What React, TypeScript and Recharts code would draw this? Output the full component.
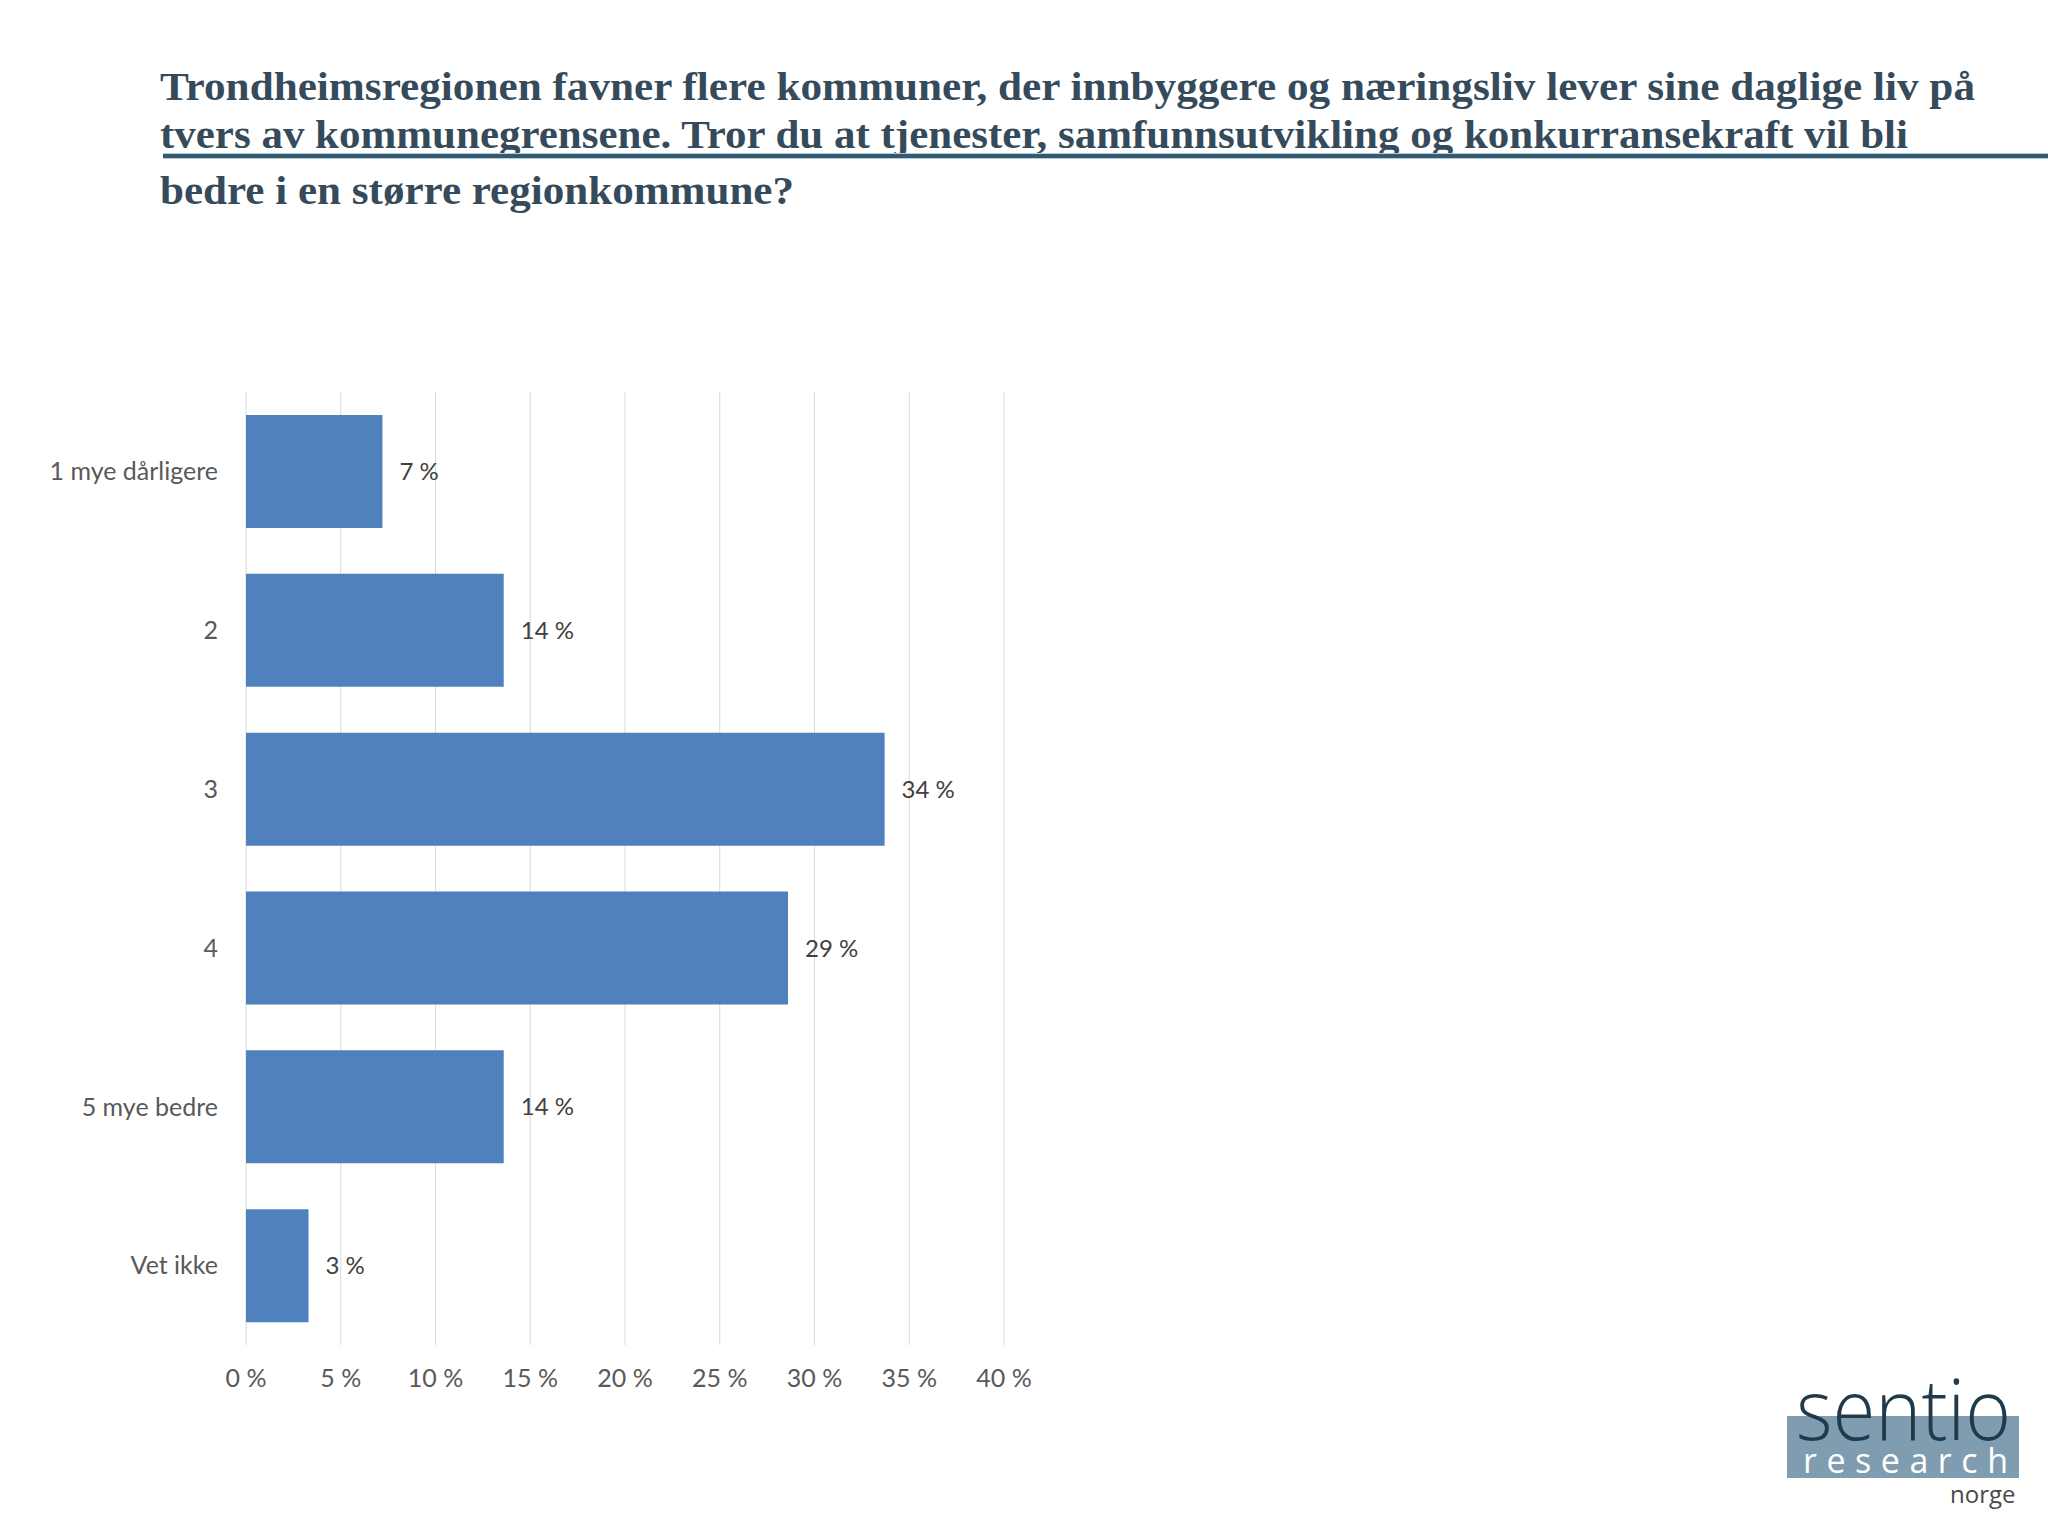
import React from 'react';
import {
  BarChart,
  Bar,
  XAxis,
  YAxis,
  CartesianGrid,
  LabelList,
} from 'recharts';

const categories = ['1 mye dårligere', '2', '3', '4', '5 mye bedre', 'Vet ikke'];
const shares = [7.2, 13.6, 33.7, 28.6, 13.6, 3.3];
const xTicks = [0, 5, 10, 15, 20, 25, 30, 35, 40];
const titleLines = [
  'Trondheimsregionen favner flere kommuner, der innbyggere og næringsliv lever sine daglige liv på',
  'tvers av kommunegrensene. Tror du at tjenester, samfunnsutvikling og konkurransekraft vil bli',
  'bedre i en større regionkommune?',
];

const data = categories.map((name, i) => ({ name, value: shares[i] }));

const tickFont = { fontSize: 25, fill: '#595959', fontFamily: 'Lato' };

function Title() {
  const baselines = [100, 148, 204];
  const widths = [1815, 1748, 634];
  return (
    <svg width={2048} height={240} style={{ position: 'absolute', left: 0, top: 0 }}>
      {titleLines.map((line, i) => (
        <text
          key={i}
          x={160}
          y={baselines[i]}
          textLength={widths[i]}
          lengthAdjust="spacingAndGlyphs"
          fontFamily="'Liberation Serif'"
          fontWeight="bold"
          fontSize={41}
          fill="#354b5c"
        >
          {line}
        </text>
      ))}
      <rect x={163} y={153} width={1885} height={6} fill="#a9d2e8" />
      <rect x={163} y={154} width={1885} height={4} fill="#3a586b" />
    </svg>
  );
}

function Logo() {
  return (
    <svg width={2048} height={1536} style={{ position: 'absolute', left: 0, top: 0, pointerEvents: 'none' }}>
      <rect x={1787} y={1416} width={232} height={62} fill="#7f9cb0" />
      <text
        x={1796}
        y={1440}
        textLength={215}
        lengthAdjust="spacingAndGlyphs"
        fontFamily="'Open Sans'"
        fontWeight={300}
        fontSize={84}
        fill="#1f3a4a"
      >
        sentio
      </text>
      <text
        x={1803}
        y={1473}
        textLength={205}
        lengthAdjust="spacing"
        fontFamily="'Open Sans'"
        fontSize={34}
        fill="#ffffff"
      >
        research
      </text>
      <text x={1950} y={1503} fontFamily="'Open Sans'" fontSize={24} fill="#4a4a4a">
        norge
      </text>
    </svg>
  );
}

export default function App() {
  return (
    <div style={{ position: 'absolute', left: 0, top: 0, width: 2048, height: 1536, background: '#fff' }}>
      <Title />
      <div style={{ position: 'absolute', left: 0, top: 0 }}>
        <BarChart
          width={2048}
          height={1536}
          data={data}
          layout="vertical"
          margin={{ top: 392, right: 1044, left: 46, bottom: 131 }}
        >
          <CartesianGrid horizontal={false} stroke="#d9d9d9" />
          <XAxis
            type="number"
            domain={[0, 40]}
            ticks={xTicks}
            tickFormatter={(v) => `${v} %`}
            axisLine={false}
            tickLine={false}
            tickSize={0}
            tickMargin={24}
            height={60}
            tick={tickFont}
          />
          <YAxis
            type="category"
            dataKey="name"
            width={200}
            axisLine={false}
            tickLine={false}
            tickSize={0}
            tickMargin={28}
            tick={tickFont}
          />
          <Bar dataKey="value" fill="#4f81bd" barSize={113} isAnimationActive={false}>
            <LabelList
              dataKey="value"
              position="right"
              offset={17}
              formatter={(v) => `${Math.round(Number(v))} %`}
              style={{ fontSize: 24, fill: '#404040', fontFamily: 'Lato' }}
            />
          </Bar>
        </BarChart>
      </div>
      <Logo />
    </div>
  );
}
